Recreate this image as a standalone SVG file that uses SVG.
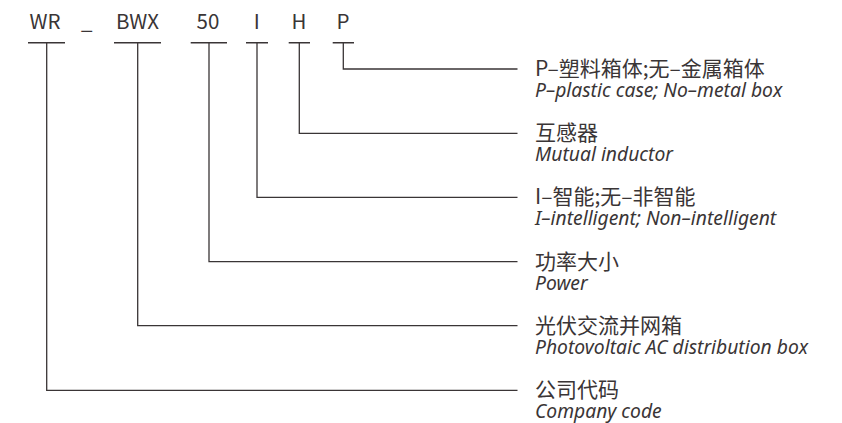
<svg xmlns="http://www.w3.org/2000/svg" width="842" height="423" viewBox="0 0 842 423">
<style>
.code{font-family:"Noto Sans CJK SC","Noto Sans",sans-serif;font-size:20.5px;fill:#3a3536;text-anchor:middle}
.zh{font-family:"Noto Sans CJK SC",sans-serif;font-size:21px;fill:#3a3536}
.en{font-family:"Noto Sans","Liberation Sans",sans-serif;font-style:italic;font-size:19.3px;fill:#3a3536}
.ln{fill:none;stroke:#3a3536;stroke-width:1.3}
.bar{fill:none;stroke:#3a3536;stroke-width:1.6}
</style>
<rect width="842" height="423" fill="#fff"/>
<g id="code">
<text class="code" x="45" y="28.8">WR</text>
<text class="code" x="86.7" y="28.8">_</text>
<text class="code" x="137.5" y="28.8">BWX</text>
<text class="code" x="208" y="28.8">50</text>
<text class="code" x="256.8" y="28.8">I</text>
<text class="code" x="299" y="28.8">H</text>
<text class="code" x="343" y="28.8">P</text>
</g>
<g id="connectors">
<path class="bar" d="M28 42.7H65M114 42.7H161M190.7 42.7H227M246 42.7H268M288.7 42.7H310M332.7 42.7H354"/>
<path class="ln" d="M343.3 42.7V69H517.5"/>
<path class="ln" d="M299.3 42.7V133.3H517.5"/>
<path class="ln" d="M257 42.7V197.3H517.5"/>
<path class="ln" d="M209 42.7V261.7H517.5"/>
<path class="ln" d="M137.7 42.7V325.7H517.5"/>
<path class="ln" d="M46.7 42.7V390.3H517.5"/>
</g>
<g id="label-P">
<text class="zh" x="535" y="76">P–塑料箱体;无–金属箱体</text>
<text class="en" x="535" y="97">P–plastic case; No–metal box</text>
</g>
<g id="label-H">
<text class="zh" x="535" y="140.3">互感器</text>
<text class="en" x="535" y="161.3">Mutual inductor</text>
</g>
<g id="label-I">
<text class="zh" x="535" y="204.3">I–智能;无–非智能</text>
<text class="en" x="535" y="225.3">I–intelligent; Non–intelligent</text>
</g>
<g id="label-50">
<text class="zh" x="535" y="268.7">功率大小</text>
<text class="en" x="535" y="289.7">Power</text>
</g>
<g id="label-BWX">
<text class="zh" x="535" y="332.7">光伏交流并网箱</text>
<text class="en" x="535" y="353.7">Photovoltaic AC distribution box</text>
</g>
<g id="label-WR">
<text class="zh" x="535" y="397.3">公司代码</text>
<text class="en" x="535" y="418.3">Company code</text>
</g>
</svg>
